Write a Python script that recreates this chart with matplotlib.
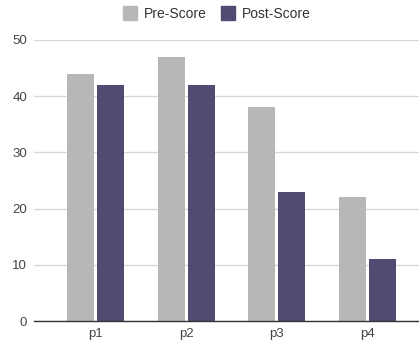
import numpy as np
import matplotlib
matplotlib.use("Agg")
import matplotlib.pyplot as plt
from matplotlib.lines import Line2D

categories = ["p1", "p2", "p3", "p4"]
pre_score = [44, 47, 38, 22]
post_score = [42, 42, 23, 11]
series_names = ["Pre-Score", "Post-Score"]

pre_color = "#b7b7b7"
post_color = "#514b73"

plt.rcParams["font.family"] = ["Liberation Sans", "DejaVu Sans"]

fig = plt.figure(figsize=(4.19, 3.45), dpi=100)
ax = fig.add_axes([34 / 419, 24 / 345, 385 / 419, 281 / 345])

x = np.arange(len(categories))
w = 0.30
off = 0.166
ax.bar(x - off, pre_score, w, color=pre_color, zorder=3)
ax.bar(x + off, post_score, w, color=post_color, zorder=3)

ax.set_xlim(-0.68, 3.57)
ax.set_ylim(0, 50)
ax.set_yticks([0, 10, 20, 30, 40, 50])
ax.set_xticks(x)
ax.set_xticklabels(categories)
ax.grid(axis="y", color="#d9d9d9", linewidth=1, zorder=0)
ax.set_axisbelow(True)
for s in ["top", "right", "left"]:
    ax.spines[s].set_visible(False)
ax.spines["bottom"].set_color("#333333")
ax.spines["bottom"].set_linewidth(1)
ax.spines["bottom"].set_zorder(4)
ax.tick_params(axis="both", length=0, labelsize=9.5, colors="#444444")
ax.tick_params(axis="x", pad=5)
ax.tick_params(axis="y", pad=5)
for lab in ax.get_yticklabels():
    lab.set_clip_on(False)

handles = [
    Line2D([], [], marker="s", linestyle="", markersize=9.5, color=pre_color),
    Line2D([], [], marker="s", linestyle="", markersize=9.5, color=post_color),
]
fig.legend(handles, series_names, loc="center", bbox_to_anchor=(217 / 419, 1 - 14 / 345),
           ncol=2, frameon=False, fontsize=10, handletextpad=0.5, columnspacing=1.0,
           labelcolor="#333333", handlelength=1.0)

fig.savefig("out.png", dpi=100)
